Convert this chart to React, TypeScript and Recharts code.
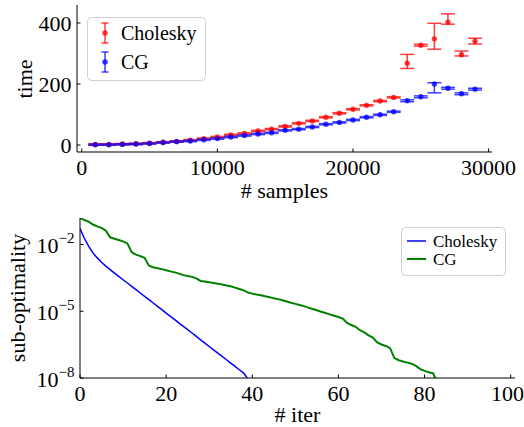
import React from 'react'
import { ComposedChart, LineChart, Scatter, Line, XAxis, YAxis, ErrorBar, Legend } from 'recharts'

// top panel: wall time vs number of samples
const samples = [1000, 2000, 3000, 4000, 5000, 6000, 7000, 8000, 9000, 10000, 11000, 12000, 13000, 14000, 15000, 16000, 17000, 18000, 19000, 20000, 21000, 22000, 23000, 24000, 25000, 26000, 27000, 28000, 29000]
const cholTime = [2, 2, 3, 4, 6, 9, 12, 16, 21, 26, 33, 38, 46, 52, 61, 71, 79, 91, 104, 117, 130, 144, 156, 268, 327, 348, 403, 296, 340]
const cholErrLow = [2, 2, 2, 2, 2, 2, 2, 2, 2, 2, 2, 2, 2, 2, 2, 2, 2, 2, 2, 2, 2, 2, 2, 17, 3, 34, 7, 4, 9]
const cholErrHigh = [2, 2, 2, 2, 2, 2, 2, 2, 2, 2, 2, 2, 2, 2, 2, 2, 2, 2, 2, 2, 2, 2, 2, 29, 3, 51, 27, 12, 10]
const cgTime = [1, 1, 2, 3, 5, 8, 11, 13, 17, 21, 26, 31, 36, 40, 48, 52, 59, 68, 74, 82, 91, 99, 109, 145, 158, 200, 186, 168, 183]
const cgErrLow = [2, 2, 2, 2, 2, 2, 2, 2, 2, 2, 2, 2, 2, 2, 2, 2, 2, 2, 2, 2, 2, 2, 2, 3, 3, 29, 3, 3, 3]
const cgErrHigh = [2, 2, 2, 2, 2, 2, 2, 2, 2, 2, 2, 2, 2, 2, 2, 2, 2, 2, 2, 2, 2, 2, 2, 3, 3, 4, 3, 3, 3]
const sampleTicks = [0, 10000, 20000, 30000]
const timeTicks = [0, 200, 400]

// bottom panel: sub-optimality per iteration
const cholSubopt = [
  5.2e-2, 1.9e-2, 8.5e-3, 4.2e-3, 2.5e-3, 1.6e-3, 1.07e-3, 7.4e-4, 5.2e-4, 3.7e-4,
  2.6e-4, 1.86e-4, 1.32e-4, 9.3e-5, 6.6e-5, 4.7e-5, 3.3e-5, 2.35e-5, 1.66e-5, 1.18e-5,
  8.3e-6, 5.9e-6, 4.2e-6, 2.95e-6, 2.1e-6, 1.48e-6, 1.05e-6, 7.4e-7, 5.2e-7, 3.7e-7,
  2.6e-7, 1.85e-7, 1.3e-7, 9.3e-8, 6.6e-8, 4.7e-8, 3.3e-8, 2.35e-8, 1.66e-8, 9e-9,
]
const cgSubopt = [
  1.55e-1, 1.26e-1, 1.07e-1, 7.9e-2, 6.5e-2, 5.6e-2, 4.2e-2, 2.1e-2, 1.8e-2, 1.6e-2,
  1.38e-2, 1.12e-2, 4.5e-3, 3.5e-3, 3.0e-3, 2.5e-3, 1.12e-3, 9.5e-4, 8.5e-4, 7.8e-4,
  6.9e-4, 6.2e-4, 5.6e-4, 4.9e-4, 4.2e-4, 3.8e-4, 3.5e-4, 3.0e-4, 2.3e-4, 2.15e-4,
  2.0e-4, 1.86e-4, 1.74e-4, 1.58e-4, 1.45e-4, 1.32e-4, 1.15e-4, 1.0e-4, 8.7e-5, 6.9e-5,
  6.2e-5, 5.6e-5, 5.2e-5, 4.7e-5, 4.3e-5, 3.8e-5, 3.5e-5, 3.1e-5, 2.75e-5, 2.4e-5,
  2.15e-5, 1.9e-5, 1.7e-5, 1.45e-5, 1.26e-5, 1.1e-5, 9.5e-6, 8.3e-6, 7.2e-6, 6.3e-6,
  5.5e-6, 4.7e-6, 3.0e-6, 2.4e-6, 2.0e-6, 1.4e-6, 1.12e-6, 8.3e-7, 6.6e-7, 4.0e-7,
  3.2e-7, 2.75e-7, 2.2e-7, 7.9e-8, 6.3e-8, 5.5e-8, 4.9e-8, 4.4e-8, 3.5e-8, 2.5e-8,
  2.1e-8, 1.8e-8, 1.6e-8, 6e-9,
]
const iterTicks = [0, 20, 40, 60, 80, 100]
const logTicks = [1e-8, 1e-5, 1e-2]
const logTickExp = ['−8', '−5', '−2']

const cholRows = samples.map((s, i) => ({ samples: s, time: cholTime[i], err: [cholErrLow[i], cholErrHigh[i]] }))
const cgRows = samples.map((s, i) => ({ samples: s, time: cgTime[i], err: [cgErrLow[i], cgErrHigh[i]] }))
const iterRows = cgSubopt.map((v, i) => ({ iter: i, cg: v, chol: cholSubopt[i] }))

const FONT = '"Liberation Serif", "DejaVu Serif", serif'
const RED = 'rgba(255,0,0,0.75)'
const BLUE = 'rgba(0,0,255,0.75)'
const serif = { fontFamily: FONT }
const tickStyle = { fontSize: 22, fill: '#000', style: serif }

const LogTick = (props: any) => {
  const { x, y, payload } = props
  const idx = logTicks.indexOf(payload.value)
  return (
    <text x={x} y={y + 8.5} textAnchor="end" style={serif} fontSize={22} fill="#000">
      <tspan>10</tspan>
      <tspan dy={-10} fontSize={15}>{logTickExp[idx] ?? ''}</tspan>
    </text>
  )
}

const TopLegend = () => (
  <svg width={120} height={65} style={{ display: 'block' }}>
    <rect x={0.5} y={0.5} width={118} height={63} rx={4} fill="#fff" stroke="#d0d0d0" />
    <g stroke={RED} strokeWidth={1.5}>
      <line x1={18} x2={18} y1={6} y2={26} />
      <line x1={14.5} x2={21.5} y1={6} y2={6} />
      <line x1={14.5} x2={21.5} y1={26} y2={26} />
    </g>
    <circle cx={18} cy={16} r={2.8} fill={RED} />
    <g stroke={BLUE} strokeWidth={1.5}>
      <line x1={18} x2={18} y1={35} y2={55} />
      <line x1={14.5} x2={21.5} y1={35} y2={35} />
      <line x1={14.5} x2={21.5} y1={55} y2={55} />
    </g>
    <circle cx={18} cy={45} r={2.8} fill={BLUE} />
    <text x={34} y={23} style={serif} fontSize={20}>Cholesky</text>
    <text x={34} y={52} style={serif} fontSize={20}>CG</text>
  </svg>
)

const BottomLegend = () => (
  <svg width={106} height={50} style={{ display: 'block' }}>
    <rect x={0.5} y={0.5} width={104} height={48} rx={4} fill="#fff" stroke="#d0d0d0" />
    <line x1={6} x2={25} y1={14} y2={14} stroke="#0000ff" strokeWidth={1.5} />
    <line x1={6} x2={25} y1={32} y2={32} stroke="#008000" strokeWidth={2} />
    <text x={32} y={20} style={serif} fontSize={17}>Cholesky</text>
    <text x={32} y={38} style={serif} fontSize={17}>CG</text>
  </svg>
)

const dot = (color: string) => (p: any) => <circle cx={p.cx} cy={p.cy} r={2.7} fill={color} />

export default function App() {
  return (
    <div style={{ position: 'absolute', left: 0, top: 0, width: 524, height: 427, background: '#fff', fontFamily: FONT }}>
      <div style={{ position: 'absolute', left: 0, top: 0 }}>
        <ComposedChart width={524} height={210} margin={{ top: 5, right: 32, bottom: 0, left: 0 }}>
          <XAxis
            type="number"
            dataKey="samples"
            domain={[-350, 30250]}
            ticks={sampleTicks}
            allowDataOverflow
            height={58}
            tickSize={-3.5}
            tickMargin={11}
            tick={tickStyle}
            stroke="#000"
            label={{
              content: (p: any) => (
                <text x={p.viewBox.x + p.viewBox.width / 2} y={198} textAnchor="middle" style={serif} fontSize={22}># samples</text>
              ),
            }}
          />
          <YAxis
            type="number"
            dataKey="time"
            domain={[-23, 459]}
            ticks={timeTicks}
            allowDataOverflow
            width={77}
            tickSize={-3.5}
            tickMargin={9}
            tick={tickStyle}
            stroke="#000"
            label={{
              content: () => (
                <text x={32} y={79} textAnchor="middle" style={serif} fontSize={22} transform="rotate(-90, 32, 79)">time</text>
              ),
            }}
          />
          <Legend
            layout="vertical"
            align="center"
            verticalAlign="middle"
            content={() => <TopLegend />}
            wrapperStyle={{ position: 'absolute', left: 87, top: 17, width: 120, height: 65 }}
          />
          <Scatter name="Cholesky" data={cholRows} fill={RED} shape={dot(RED)} isAnimationActive={false}>
            <ErrorBar dataKey="err" direction="y" width={7} stroke={RED} strokeWidth={1.5} isAnimationActive={false} />
          </Scatter>
          <Scatter name="CG" data={cgRows} fill={BLUE} shape={dot(BLUE)} isAnimationActive={false}>
            <ErrorBar dataKey="err" direction="y" width={7} stroke={BLUE} strokeWidth={1.5} isAnimationActive={false} />
          </Scatter>
        </ComposedChart>
      </div>
      <div style={{ position: 'absolute', left: 0, top: 210 }}>
        <LineChart width={524} height={217} data={iterRows} margin={{ top: 8, right: 9, bottom: 0, left: 0 }}>
          <XAxis
            type="number"
            dataKey="iter"
            domain={[0, 101]}
            ticks={iterTicks}
            allowDataOverflow
            height={49}
            tickSize={-3.5}
            tickMargin={11}
            tick={tickStyle}
            stroke="#000"
            label={{
              content: (p: any) => (
                <text x={p.viewBox.x + p.viewBox.width / 2} y={212} textAnchor="middle" style={serif} fontSize={22}># iter</text>
              ),
            }}
          />
          <YAxis
            type="number"
            scale="log"
            domain={[1e-8, 0.155]}
            ticks={logTicks}
            allowDataOverflow
            width={80}
            tickSize={-3.5}
            tickMargin={9}
            tick={<LogTick />}
            stroke="#000"
            label={{
              content: () => (
                <text x={25} y={88} textAnchor="middle" style={serif} fontSize={22} transform="rotate(-90, 25, 88)">sub-optimality</text>
              ),
            }}
          />
          <Legend
            layout="vertical"
            align="center"
            verticalAlign="middle"
            content={() => <BottomLegend />}
            wrapperStyle={{ position: 'absolute', left: 401, top: 17, width: 106, height: 50 }}
          />
          <Line type="linear" dataKey="chol" name="Cholesky" stroke="#0000ff" strokeWidth={1.5} dot={false} isAnimationActive={false} />
          <Line type="linear" dataKey="cg" name="CG" stroke="#008000" strokeWidth={2} dot={false} isAnimationActive={false} />
        </LineChart>
      </div>
    </div>
  )
}
